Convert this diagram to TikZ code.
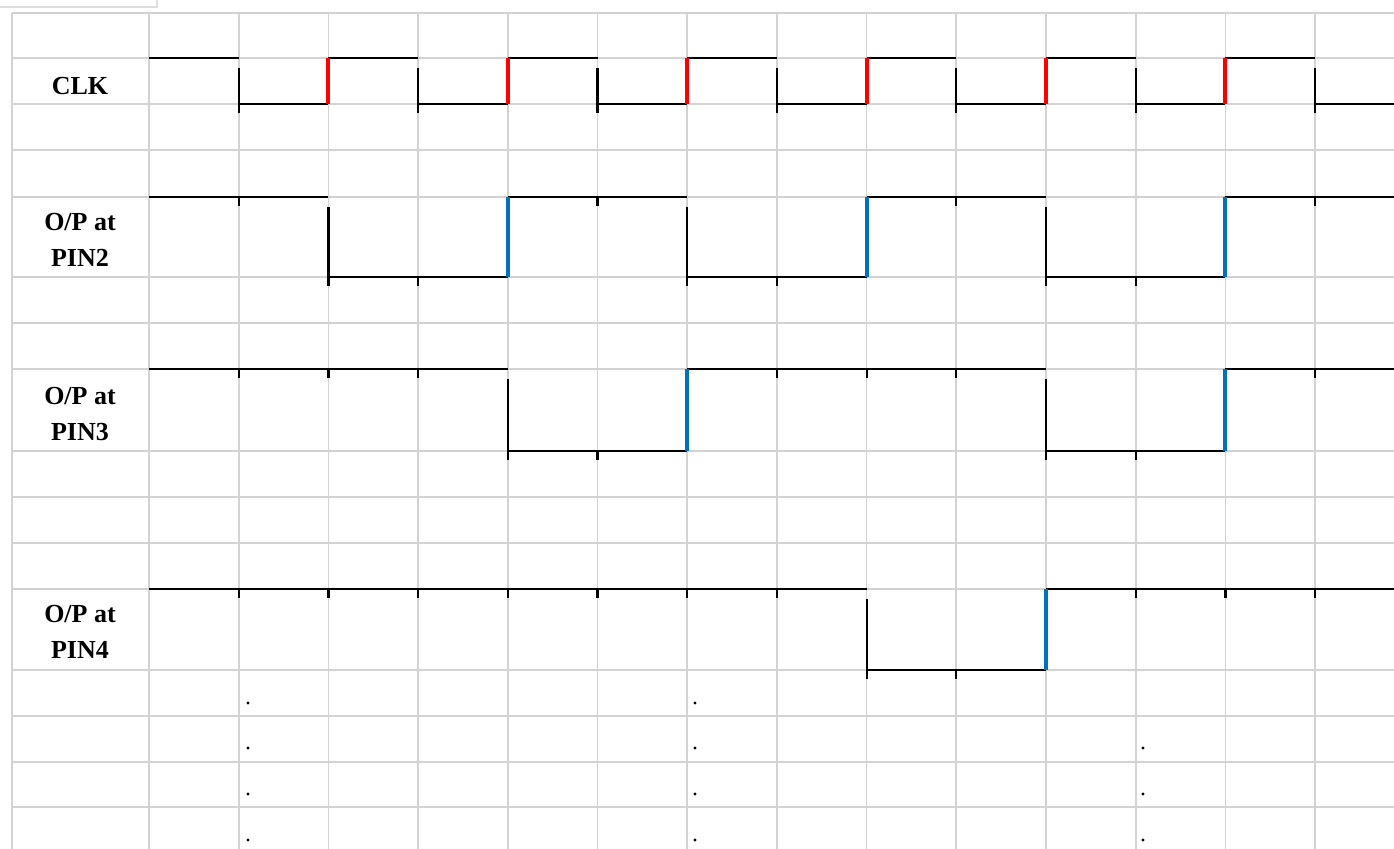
\documentclass[tikz,border=0pt]{standalone}
\usepackage{fontspec}
\setmainfont{Liberation Serif}
\usepackage{tikz}
\usetikzlibrary{positioning,calc}
\definecolor{gridcolor}{RGB}{211,211,211}
\definecolor{tabcolor}{RGB}{222,222,222}
\definecolor{clkcolor}{RGB}{255,0,0}
\definecolor{outcolor}{RGB}{0,112,192}
\tikzset{
  gridln/.style={line width=0.95pt, gridcolor},
  tabln/.style={line width=0.8pt, tabcolor},
  sigln/.style={line width=1.25pt, black},
  edgeln/.style={line width=2.2pt},
  lbl/.style={font=\fontsize{14.8}{20.5}\selectfont\bfseries, align=center, inner sep=0pt},
}
% one row of the timing chart: #1 high y, #2 low y, #3 colour of rising edge, #4 levels per column
\newcommand{\timingrow}[4]{%
  \foreach \lv [count=\i from 0, remember=\lv as \pv (initially 2)] in {#4} {
    \pgfmathsetmacro{\xa}{149+89.7*\i}
    \pgfmathsetmacro{\xb}{min(149+89.7*(\i+1),1394)}
    \ifnum\lv=1 \def\yy{#1}\else\def\yy{#2}\fi
    \draw[sigln] (\xa,\yy) -- (\xb,\yy);
    \ifnum\pv=\lv\relax \draw[sigln] (\xa,\yy) -- ++(0,9);\fi
    \ifnum\pv=1 \ifnum\lv=0 \draw[sigln] (\xa,#1+10) -- (\xa,#2+9);\fi\fi
    \ifnum\pv=0 \ifnum\lv=1 \draw[edgeln,#3] (\xa,#2) -- (\xa,#1);\fi\fi
  }}
\begin{document}
\begin{tikzpicture}[x=0.02cm, y=-0.02cm]
    \useasboundingbox (0,0) rectangle (1394,849);
    % sheet tab and grid
    \draw[tabln] (0,7) -- (157,7) -- (157,0);
    \foreach \y in {13,58,104,150,197,277,323,369,451,497,543,589,670,716,762,807}
      \draw[gridln] (12,\y) -- (1394,\y);
    \draw[gridln] (12,13) -- (12,849);
    \foreach \i in {0,...,13}
      \draw[gridln] ({149+89.7*\i},13) -- ({149+89.7*\i},849);
    % row labels
    \node[lbl] (clk) at (80,86) {CLK};
    \node[lbl] (pin2) at (80,240) {O/P at\\PIN2};
    \node[lbl] (pin3) at (80,414) {O/P at\\PIN3};
    \node[lbl] (pin4) at (80,632) {O/P at\\PIN4};
    % waveforms
    \timingrow{58}{104}{clkcolor}{1,0,1,0,1,0,1,0,1,0,1,0,1,0}
    \timingrow{197}{277}{outcolor}{1,1,0,0,1,1,0,0,1,1,0,0,1,1}
    \timingrow{369}{451}{outcolor}{1,1,1,1,0,0,1,1,1,1,0,0,1,1}
    \timingrow{589}{670}{outcolor}{1,1,1,1,1,1,1,1,0,0,1,1,1,1}
    % dots below the chart
    \foreach \x/\y in {248/703,248/748,248/794,248/840,695/703,695/748,695/794,695/840,1143/748,1143/794,1143/840}
      \fill (\x,\y) circle[radius=0.9pt];
\end{tikzpicture}
\end{document}
